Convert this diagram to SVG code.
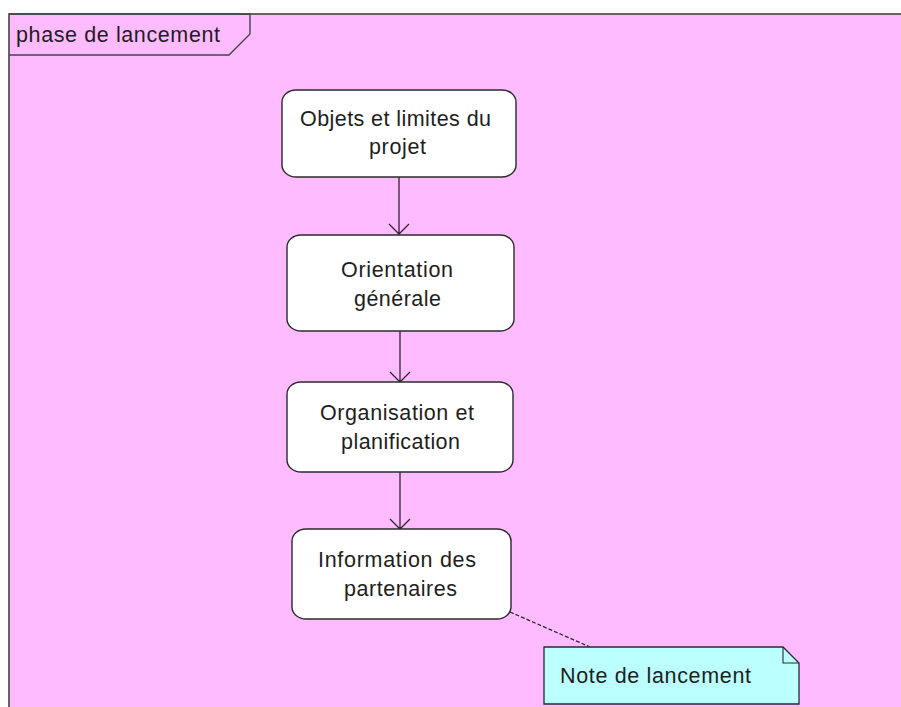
<svg xmlns="http://www.w3.org/2000/svg" width="901" height="707" viewBox="0 0 901 707">
  <style>
    .lbl { font-family: "Liberation Sans", Arial, sans-serif; font-size: 21.5px; fill: #1e1e1e; }
    .act { fill: #ffffff; stroke: #2a2a2a; stroke-width: 1.4; }
    .flow { stroke: #2a2a2a; stroke-width: 1.3; fill: none; }
  </style>
  <rect x="0" y="0" width="901" height="707" fill="#ffffff"/>

  <!-- frame -->
  <g id="frame">
    <rect x="9" y="14" width="900" height="700" fill="#ffbbff" stroke="#444444" stroke-width="1.6"/>
    <path d="M9 14 H250 V34 L229 55 H9" fill="none" stroke="#444444" stroke-width="1.4"/>
    <text class="lbl" x="16" y="42" textLength="204" lengthAdjust="spacing">phase de lancement</text>
  </g>

  <!-- connectors -->
  <g id="connectors">
    <path class="flow" d="M399 177 V234 M389 224 L399 234 L409 224"/>
    <path class="flow" d="M400 331 V382 M390 372 L400 382 L410 372"/>
    <path class="flow" d="M400 472 V529 M390 519 L400 529 L410 519"/>
    <path d="M510 612 L590 647" stroke="#2a2a2a" stroke-width="1.3" stroke-dasharray="4,2" fill="none"/>
  </g>

  <g id="objets">
    <rect class="act" x="282" y="90" width="234" height="87" rx="14" ry="12"/>
    <text class="lbl" x="300" y="126" textLength="191" lengthAdjust="spacing">Objets et limites du</text>
    <text class="lbl" x="369" y="154" textLength="57" lengthAdjust="spacing">projet</text>
  </g>

  <g id="orientation">
    <rect class="act" x="287" y="235" width="227" height="96" rx="14" ry="12"/>
    <text class="lbl" x="341" y="277" textLength="112" lengthAdjust="spacing">Orientation</text>
    <text class="lbl" x="354" y="306" textLength="87" lengthAdjust="spacing">générale</text>
  </g>

  <g id="organisation">
    <rect class="act" x="287" y="382" width="226" height="90" rx="14" ry="12"/>
    <text class="lbl" x="320" y="420" textLength="154" lengthAdjust="spacing">Organisation et</text>
    <text class="lbl" x="341" y="449" textLength="119" lengthAdjust="spacing">planification</text>
  </g>

  <g id="information">
    <rect class="act" x="292" y="529" width="219" height="90" rx="14" ry="12"/>
    <text class="lbl" x="318" y="567" textLength="158" lengthAdjust="spacing">Information des</text>
    <text class="lbl" x="344" y="596" textLength="113" lengthAdjust="spacing">partenaires</text>
  </g>

  <g id="note">
    <path d="M544 647 H783 L799 663 V704 H544 Z" fill="#bbffff" stroke="#2a2a2a" stroke-width="1.3"/>
    <path d="M783 647 V663 H799" fill="none" stroke="#2a2a2a" stroke-width="1.1"/>
    <text class="lbl" x="560" y="683" textLength="191" lengthAdjust="spacing">Note de lancement</text>
  </g>
</svg>
